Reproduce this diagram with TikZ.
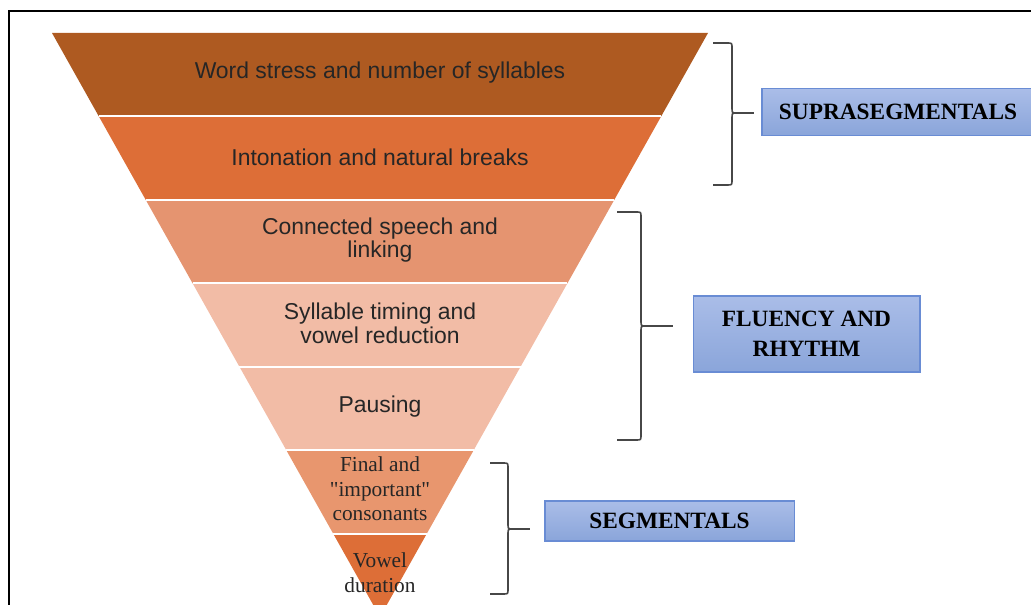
\documentclass[tikz,border=0pt]{standalone}
\usepackage{fontspec}
\setmainfont{Liberation Serif}
\newfontfamily\arialfont{Liberation Sans}
\usetikzlibrary{positioning,calc}

\definecolor{bandA}{RGB}{174,90,33}
\definecolor{bandB}{RGB}{221,110,55}
\definecolor{bandC}{RGB}{229,148,112}
\definecolor{bandD}{RGB}{242,188,166}
\definecolor{bandE}{RGB}{232,150,110}
\definecolor{boxtop}{RGB}{170,189,232}
\definecolor{boxbot}{RGB}{138,165,218}
\definecolor{boxline}{RGB}{105,140,212}

\begin{document}
\begin{tikzpicture}[
    x=0.75pt, y=-0.75pt,
    bandtext/.style={font=\arialfont\fontsize{17.2}{17.8}\selectfont, align=center, text=black!85},
    tiptext/.style={font=\fontsize{16}{18.5}\selectfont, align=center, text=black!85},
    groupbox/.style={rectangle, draw=boxline, line width=1pt, top color=boxtop, bottom color=boxbot, align=center, inner sep=0pt, font=\bfseries\fontsize{17.5}{22.5}\selectfont},
    brace/.style={draw=black!72, line width=1.2pt}
]
    \clip (0,0) rectangle (1031,605);
    \useasboundingbox (0,0) rectangle (1031,605);
    \draw[line width=1.5pt] (9,610) -- (9,11) -- (1040,11);

    \coordinate (tl) at (52,33);
    \coordinate (tr) at (708,33);
    \coordinate (apex) at (380,617);

    \foreach \i/\col in {0/bandA,1/bandB,2/bandC,3/bandD,4/bandD,5/bandE,6/bandB} {
        \fill[\col] ($(tl)!\i/7!(apex)$) -- ($(tr)!\i/7!(apex)$) -- ($(tr)!\i/7+1/7!(apex)$) -- ($(tl)!\i/7+1/7!(apex)$) -- cycle;
    }
    \foreach \i in {1,...,6} {
        \draw[white, line width=1.5pt] ($(tl)!\i/7!(apex)$) -- ($(tr)!\i/7!(apex)$);
    }

    \node[bandtext] (stress) at (380,73) {Word stress and number of syllables};
    \node[bandtext] (intonation) at (380,157) {Intonation and natural breaks};
    \node[bandtext] (linking) at (380,240) {Connected speech and\\linking};
    \node[bandtext] (timing) at (380,323) {Syllable timing and\\vowel reduction};
    \node[bandtext] (pausing) at (380,407) {Pausing};
    \node[tiptext] (consonants) at (380,489) {Final and\\\textquotedbl important\textquotedbl\\consonants};
    \node[tiptext] (vowel) at (380,573) {Vowel\\duration};

    \node[groupbox, minimum width=204pt, minimum height=35pt] (supra) at (898,112) {SUPRASEGMENTALS};
    \node[groupbox, minimum width=170pt, minimum height=57pt] (fluency) at (806.5,334) {FLUENCY AND\\RHYTHM};
    \node[groupbox, minimum width=187pt, minimum height=30pt] (segm) at (669.5,521) {SEGMENTALS};

    \draw[brace] (713,43) -- (727,43) .. controls (732,43) .. (732,48) -- (732,108) .. controls (732,113) .. (737,113) .. controls (732,113) .. (732,118) -- (732,180) .. controls (732,185) .. (727,185) -- (713,185);
    \draw[brace] (617,212) -- (636,212) .. controls (641,212) .. (641,217) -- (641,321) .. controls (641,326) .. (646,326) .. controls (641,326) .. (641,331) -- (641,435) .. controls (641,440) .. (636,440) -- (617,440);
    \draw[brace] (490,463) -- (503,463) .. controls (508,463) .. (508,468) -- (508,524) .. controls (508,529) .. (513,529) .. controls (508,529) .. (508,534) -- (508,589) .. controls (508,594) .. (503,594) -- (490,594);

    \coordinate (supratip) at (736,113);
    \coordinate (fluencytip) at (645,326);
    \coordinate (segmtip) at (512,529);

    \draw[brace] (supratip) -- ([xshift=-5.25pt]supra.west |- supratip);
    \draw[brace] (fluencytip) -- ([xshift=-15pt]fluency.west |- fluencytip);
    \draw[brace] (segmtip) -- ([xshift=-11pt]segm.west |- segmtip);
\end{tikzpicture}
\end{document}
